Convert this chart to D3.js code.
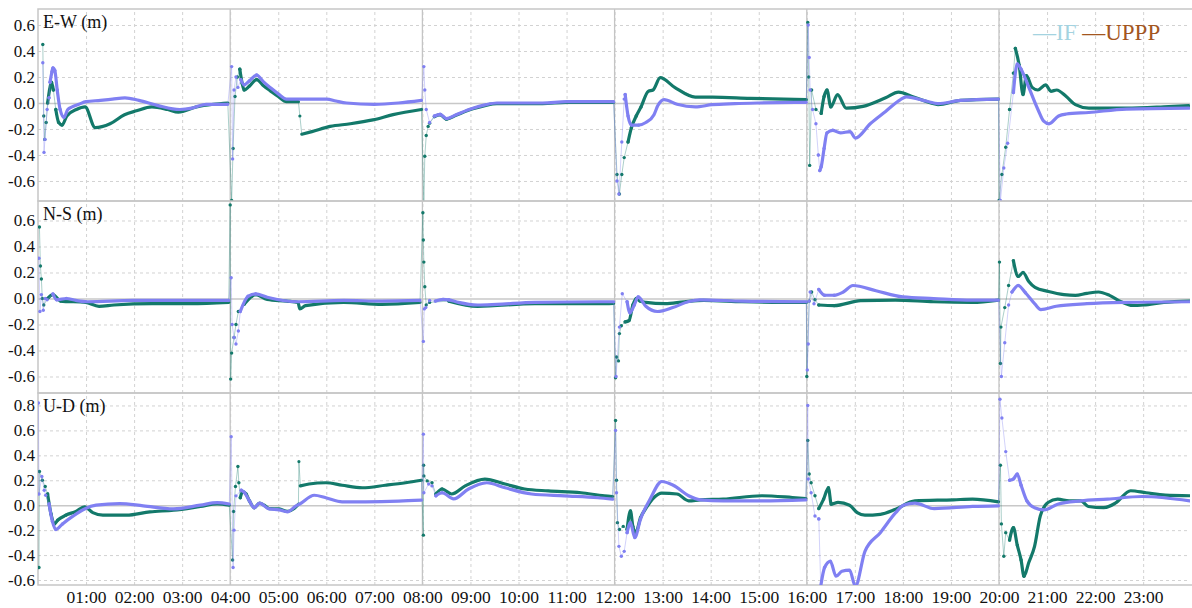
<!DOCTYPE html>
<html>
<head>
<meta charset="utf-8">
<script src="https://cdn.jsdelivr.net/npm/d3@7"></script>
<style>
  body { margin: 0; background: #fff; }
  svg text { font-family: "Liberation Serif", "Times New Roman", serif; }
</style>
</head>
<body>
<div id="chart"></div>
<script>
var w = 1192;
var h = 608;

// hours with tick labels, session restarts and y ticks
var hourTicks = d3.range(1, 24);
var sessionStarts = [4, 8, 12, 16, 20];
var yTicksNE = [-0.6, -0.4, -0.2, 0.0, 0.2, 0.4, 0.6];
var yTicksU = [-0.6, -0.4, -0.2, 0.0, 0.2, 0.4, 0.6, 0.8];
var panelTitles = ["E-W (m)", "N-S (m)", "U-D (m)"];
var legendNames = ["IF", "UPPP"];

// [hour, metres]
var ewIF = [[0.10,0.31],[0.125,-0.38],[0.146,-0.28],[0.19,-0.05],[0.23,0.04],[0.25,0.16],[0.29,0.24],[0.31,0.27],[0.35,0.25],[0.40,0.10],[0.46,-0.05],[0.54,-0.11],[0.62,-0.05],[0.71,-0.03],[0.85,-0.01],[1.0,0.01],[1.3,0.02],[1.55,0.03],[1.81,0.04],[2.1,0.02],[2.5,-0.02],[2.95,-0.05],[3.2,-0.04],[3.5,-0.01],[3.95,-0.01],
  [4.03,0.28],[4.05,-0.43],[4.08,0.1],[4.12,0.2],[4.16,0.12],[4.22,0.18],[4.29,0.14],[4.4,0.17],[4.55,0.215],[4.7,0.16],[4.83,0.12],[5.0,0.07],[5.17,0.03],[5.43,0.03],[5.7,0.03],[6.01,0.03],[6.2,0.015],[6.42,0.0],[7.0,-0.01],[7.5,0.0],[7.98,0.02],
  [8.03,0.28],[8.05,0.1],[8.08,-0.05],[8.15,-0.15],[8.25,-0.1],[8.37,-0.087],[8.5,-0.12],[8.7,-0.09],[9.05,-0.04],[9.3,-0.015],[9.55,0.0],[10.5,0.0],[11.0,0.01],[11.98,0.01],
  [12.05,-0.6],[12.09,-0.7],[12.15,-0.3],[12.2,0.03],[12.22,0.065],[12.28,-0.1],[12.35,-0.17],[12.5,-0.17],[12.65,-0.15],[12.82,-0.09],[12.9,-0.02],[13.03,0.026],[13.3,-0.01],[13.68,-0.03],[14.03,-0.013],[14.5,-0.005],[15.0,0.0],[15.99,0.005],
  [16.03,0.6],[16.05,0.35],[16.07,0.1],[16.12,-0.05],[16.19,-0.16],[16.24,-0.4],[16.27,-0.52],[16.3,-0.49],[16.36,-0.35],[16.42,-0.23],[16.54,-0.21],[16.7,-0.23],[16.9,-0.22],[17.01,-0.27],[17.32,-0.16],[17.64,-0.065],[17.95,0.026],[18.07,0.047],[18.5,0.013],[18.73,-0.005],[19.2,0.02],[19.99,0.03],
  [20.03,-0.75],[20.1,-0.5],[20.18,-0.31],[20.3,0.08],[20.38,0.3],[20.46,0.26],[20.61,0.13],[20.81,-0.05],[20.93,-0.14],[21.04,-0.16],[21.24,-0.10],[21.4,-0.085],[21.87,-0.073],[22.65,-0.047],[23.95,-0.04]];
var ewUPPP = [[0.10,0.45],[0.12,-0.1],[0.14,-0.28],[0.17,-0.15],[0.2,0.0],[0.24,0.1],[0.28,0.16],[0.32,0.1],[0.37,-0.05],[0.43,-0.15],[0.5,-0.17],[0.6,-0.1],[0.8,-0.05],[0.98,-0.03],[1.19,-0.19],[1.5,-0.16],[1.8,-0.09],[2.05,-0.06],[2.37,-0.03],[2.7,-0.05],[2.92,-0.07],[3.3,-0.03],[3.65,-0.01],[3.95,0.0],
  [4.03,-0.75],[4.06,-0.35],[4.1,0.05],[4.15,0.2],[4.2,0.26],[4.25,0.15],[4.29,0.10],[4.4,0.13],[4.55,0.18],[4.7,0.13],[4.83,0.095],[5.0,0.05],[5.17,0.01],[5.42,0.01],[5.45,-0.1],[5.49,-0.24],[5.7,-0.22],[6.08,-0.18],[6.5,-0.16],[6.97,-0.13],[7.39,-0.09],[7.98,-0.05],
  [8.03,-0.78],[8.05,-0.41],[8.08,-0.25],[8.12,-0.18],[8.15,-0.155],[8.25,-0.105],[8.37,-0.09],[8.5,-0.125],[8.7,-0.095],[9.05,-0.045],[9.3,-0.02],[9.55,-0.005],[10.5,-0.005],[11.0,0.005],[11.98,0.005],
  [12.05,-0.55],[12.1,-0.7],[12.15,-0.55],[12.2,-0.42],[12.28,-0.3],[12.35,-0.19],[12.45,-0.1],[12.55,-0.03],[12.7,0.09],[12.8,0.1],[12.95,0.195],[13.25,0.12],[13.68,0.045],[14.03,0.045],[14.82,0.036],[15.99,0.026],
  [16.02,0.62],[16.04,0.2],[16.06,-0.48],[16.1,0.1],[16.19,-0.05],[16.3,-0.08],[16.36,0.05],[16.42,0.1],[16.5,-0.03],[16.64,0.065],[16.82,-0.04],[17.17,-0.026],[17.64,0.04],[17.91,0.083],[18.19,0.05],[18.58,0.0],[18.73,-0.013],[19.2,0.02],[19.99,0.03],
  [20.0,-0.75],[20.06,-0.55],[20.14,-0.34],[20.22,-0.05],[20.3,0.23],[20.34,0.42],[20.42,0.29],[20.5,0.065],[20.57,0.21],[20.69,0.12],[20.81,0.10],[20.97,0.14],[21.08,0.09],[21.2,0.10],[21.4,0.05],[21.59,-0.013],[21.87,-0.04],[22.65,-0.04],[23.43,-0.03],[23.95,-0.02]];

var nsIF = [[0.02,0.31],[0.04,-0.1],[0.07,0.03],[0.11,-0.09],[0.15,0.0],[0.19,-0.01],[0.31,0.035],[0.39,-0.01],[0.59,0.0],[0.79,-0.015],[1.03,-0.025],[1.98,-0.015],[3.0,-0.015],[3.97,-0.015],
  [4.02,0.16],[4.04,-0.2],[4.08,-0.3],[4.12,-0.35],[4.17,-0.25],[4.21,-0.1],[4.37,0.017],[4.53,0.035],[4.77,0.01],[5.41,-0.025],[6.36,-0.015],[7.16,-0.02],[7.95,-0.015],
  [8.02,-0.33],[8.04,-0.08],[8.07,-0.07],[8.15,-0.015],[8.27,-0.02],[8.43,-0.007],[8.55,-0.01],[8.75,-0.03],[9.15,-0.05],[9.55,-0.045],[10.34,-0.03],[11.68,-0.025],[11.98,-0.025],
  [12.03,-0.6],[12.1,-0.22],[12.16,0.037],[12.26,-0.025],[12.32,-0.11],[12.41,-0.05],[12.49,0.012],[12.65,-0.06],[12.89,-0.1],[13.21,-0.07],[13.53,-0.025],[13.77,-0.01],[14.65,-0.02],[15.99,-0.025],
  [16.01,-0.55],[16.03,-0.35],[16.05,-0.02],[16.07,0.05],[16.15,-0.04],[16.25,0.07],[16.37,0.025],[16.57,0.025],[16.76,0.05],[16.96,0.1],[17.44,0.06],[18.0,0.012],[18.64,0.0],[19.44,-0.012],[19.99,-0.012],
  [20.05,-0.6],[20.12,-0.34],[20.2,-0.05],[20.27,0.05],[20.4,0.1],[20.55,0.044],[20.75,-0.044],[20.87,-0.085],[21.19,-0.06],[21.83,-0.04],[22.63,-0.03],[23.97,-0.025]];
var nsUPPP = [[0.03,0.55],[0.05,0.25],[0.07,0.15],[0.09,0.0],[0.12,-0.05],[0.2,0.0],[0.31,0.03],[0.47,-0.02],[0.99,-0.03],[1.27,-0.06],[1.58,-0.05],[2.38,-0.04],[3.18,-0.04],[3.97,-0.03],
  [4.0,0.72],[4.01,-0.62],[4.03,-0.42],[4.08,-0.3],[4.12,-0.2],[4.17,-0.1],[4.29,-0.045],[4.45,0.017],[4.53,0.03],[4.77,-0.007],[5.17,-0.02],[5.41,-0.03],[5.45,-0.08],[5.57,-0.055],[6.36,-0.03],[7.16,-0.045],[7.95,-0.03],
  [8.01,0.66],[8.02,0.45],[8.03,0.28],[8.05,0.09],[8.08,-0.05],[8.15,-0.03],[8.55,-0.02],[9.15,-0.06],[10.34,-0.04],[11.68,-0.04],[11.98,-0.037],
  [12.02,-0.61],[12.04,-0.45],[12.08,-0.48],[12.1,-0.27],[12.14,-0.21],[12.22,-0.18],[12.3,-0.17],[12.38,-0.05],[12.45,0.0],[12.53,-0.02],[12.65,-0.03],[13.05,-0.04],[13.45,-0.025],[13.85,-0.015],[14.65,-0.025],[15.45,-0.03],[15.99,-0.03],
  [16.0,-0.6],[16.05,-0.02],[16.1,0.05],[16.17,-0.01],[16.25,-0.05],[16.57,-0.055],[17.12,-0.017],[17.84,-0.012],[18.64,-0.025],[19.44,-0.03],[19.99,-0.012],
  [20.01,0.28],[20.03,-0.5],[20.04,-0.22],[20.12,-0.07],[20.2,0.1],[20.3,0.29],[20.4,0.17],[20.5,0.2],[20.62,0.13],[20.75,0.085],[21.03,0.054],[21.35,0.03],[21.59,0.024],[21.83,0.04],[22.07,0.05],[22.3,0.024],[22.54,-0.025],[22.78,-0.054],[23.01,-0.05],[23.43,-0.03],[23.97,-0.02]];

var udIF = [[0.01,0.82],[0.02,0.09],[0.08,0.23],[0.13,0.12],[0.16,0.08],[0.23,0.01],[0.3,-0.13],[0.37,-0.195],[0.51,-0.15],[0.72,-0.09],[0.97,-0.03],[1.21,0.0],[1.7,0.013],[2.19,-0.005],[2.82,-0.03],[3.38,0.0],[3.73,0.02],[3.98,0.01],
  [4.02,0.55],[4.06,-0.5],[4.08,-0.2],[4.12,0.075],[4.23,0.12],[4.3,0.1],[4.4,0.035],[4.5,-0.02],[4.61,0.016],[4.81,-0.03],[5.02,-0.037],[5.19,-0.053],[5.37,-0.005],[5.44,0.008],[5.75,0.08],[5.99,0.06],[6.33,0.027],[6.82,0.027],[7.51,0.032],[7.98,0.04],
  [8.02,0.57],[8.03,0.1],[8.13,0.17],[8.2,0.155],[8.28,0.075],[8.41,0.1],[8.65,0.05],[8.96,0.13],[9.34,0.18],[9.72,0.14],[10.27,0.09],[10.96,0.075],[11.65,0.06],[11.96,0.048],
  [12.02,0.6],[12.04,0.1],[12.09,-0.33],[12.14,-0.41],[12.2,-0.37],[12.26,-0.22],[12.33,-0.14],[12.42,-0.26],[12.54,-0.11],[12.74,0.049],[12.98,0.19],[13.22,0.16],[13.54,0.076],[13.78,0.043],[14.26,0.035],[15.06,0.035],[15.98,0.043],
  [16.02,0.8],[16.03,0.21],[16.09,0.1],[16.17,-0.086],[16.25,-0.11],[16.29,-0.65],[16.37,-0.5],[16.49,-0.45],[16.61,-0.57],[16.73,-0.53],[16.89,-0.52],[17.01,-0.65],[17.21,-0.37],[17.53,-0.22],[17.85,-0.06],[18.01,0.0],[18.25,0.016],[18.65,-0.027],[19.45,-0.01],[19.99,-0.005],
  [20.02,0.85],[20.06,0.7],[20.14,0.43],[20.22,0.2],[20.3,0.21],[20.38,0.25],[20.46,0.16],[20.58,0.035],[20.74,-0.02],[20.94,-0.038],[21.22,0.008],[21.7,0.035],[22.26,0.049],[22.98,0.07],[23.97,0.035]];
var udUPPP = [[0.02,-0.5],[0.03,0.27],[0.09,0.2],[0.15,0.15],[0.2,0.09],[0.27,-0.07],[0.34,-0.15],[0.41,-0.12],[0.58,-0.08],[0.79,-0.05],[0.97,-0.013],[1.14,-0.06],[1.35,-0.08],[1.84,-0.08],[2.33,-0.053],[2.82,-0.04],[3.38,-0.01],[3.73,0.01],[3.98,0.0],
  [4.05,-0.44],[4.07,-0.05],[4.11,0.15],[4.16,0.31],[4.18,0.18],[4.21,0.06],[4.26,0.11],[4.33,0.09],[4.4,0.035],[4.5,-0.02],[4.61,0.016],[4.71,0.0],[4.81,-0.027],[5.02,-0.03],[5.19,-0.05],[5.33,-0.027],[5.42,0.008],[5.43,0.35],[5.46,0.155],[5.64,0.17],[5.99,0.18],[6.33,0.16],[6.75,0.14],[7.23,0.16],[7.65,0.18],[7.98,0.2],
  [8.02,-0.24],[8.025,0.32],[8.03,0.235],[8.1,0.195],[8.2,0.18],[8.28,0.09],[8.41,0.13],[8.61,0.09],[8.89,0.155],[9.3,0.21],[9.72,0.17],[10.13,0.13],[10.62,0.115],[11.3,0.1],[11.79,0.075],[11.96,0.07],
  [12.02,0.68],[12.04,0.2],[12.06,-0.14],[12.1,-0.195],[12.18,-0.17],[12.26,-0.195],[12.33,-0.046],[12.38,-0.17],[12.44,-0.22],[12.54,-0.1],[12.66,-0.02],[12.82,0.062],[12.98,0.097],[13.3,0.09],[13.54,0.035],[13.78,0.043],[14.26,0.049],[15.06,0.076],[15.7,0.062],[15.98,0.054],
  [16.02,0.52],[16.05,0.25],[16.09,0.18],[16.17,0.076],[16.25,-0.027],[16.35,0.049],[16.45,0.14],[16.51,0.008],[16.65,0.022],[16.89,0.0],[17.05,-0.06],[17.21,-0.08],[17.53,-0.073],[17.85,-0.032],[18.25,0.035],[19.05,0.043],[19.45,0.049],[19.99,0.027],
  [20.03,0.32],[20.05,-0.15],[20.1,-0.41],[20.14,-0.22],[20.22,-0.28],[20.3,-0.18],[20.38,-0.32],[20.46,-0.44],[20.52,-0.57],[20.62,-0.46],[20.74,-0.33],[20.86,-0.086],[21.02,0.022],[21.22,0.049],[21.46,0.035],[21.7,0.035],[21.86,-0.01],[22.18,-0.02],[22.42,0.016],[22.74,0.116],[23.06,0.1],[23.46,0.081],[23.97,0.076]];

var colorIF = "#8080f2";
var colorUPPP = "#13796a";

var panels = [
  { title: panelTitles[0], top: 9,   bottom: 201, domain: [-0.754, 0.723], ticks: yTicksNE, series: [ewUPPP, ewIF] },
  { title: panelTitles[1], top: 201, bottom: 393, domain: [-0.727, 0.75],  ticks: yTicksNE, series: [nsUPPP, nsIF] },
  { title: panelTitles[2], top: 393, bottom: 585, domain: [-0.64, 0.90],   ticks: yTicksU,  series: [udUPPP, udIF] }
];
var seriesColors = [colorUPPP, colorIF];

var left = 38, right = 1190;

var svg = d3.select("#chart")
            .append("svg")
            .attr("width", w)
            .attr("height", h);

var xScale = d3.scaleLinear().domain([0, 24]).range([left, 1191.2]);

// time since the last session restart
function phase(t) { return t - Math.floor(t / 4) * 4; }

// break the solid trace where the solution jumps
function withBreaks(data) {
    var out = [];
    data.forEach(function(d, j) {
        if (j > 0) {
            var p = data[j - 1];
            if (Math.abs(d[1] - p[1]) / (d[0] - p[0]) > 3) out.push(null);
        }
        out.push(d);
    });
    return out;
}

panels.forEach(function(p, i) {
    var yScale = d3.scaleLinear().domain(p.domain).range([p.bottom, p.top]);
    var g = svg.append("g");

    g.append("clipPath").attr("id", "clip" + i)
        .append("rect")
        .attr("x", left).attr("y", p.top)
        .attr("width", right - left).attr("height", p.bottom - p.top);

    // grid: hours
    g.append("g")
        .attr("transform", "translate(0," + p.bottom + ")")
        .call(d3.axisBottom(xScale).tickValues(hourTicks).tickSize(-(p.bottom - p.top)).tickFormat(""))
        .call(function(a) {
            a.select(".domain").remove();
            a.selectAll("line").attr("stroke", "#d2d2d2").attr("stroke-dasharray", "3,3");
        });
    // grid: values
    g.append("g")
        .attr("transform", "translate(" + left + ",0)")
        .call(d3.axisLeft(yScale).tickValues(p.ticks).tickSize(-(right - left)).tickPadding(3)
            .tickFormat(function(d) { return d.toFixed(1); }))
        .call(function(a) {
            a.select(".domain").remove();
            a.selectAll("line")
                .attr("stroke", function(d) { return d === 0 ? "#c8c8c8" : "#d2d2d2"; })
                .attr("stroke-width", function(d) { return d === 0 ? 1.6 : 1; })
                .attr("stroke-dasharray", function(d) { return d === 0 ? null : "3,3"; });
            a.selectAll("text")
                .attr("fill", "#111")
                .style("font-size", "17px");
        });

    // session restart lines
    g.selectAll(".restart")
        .data(sessionStarts)
        .enter()
        .append("line")
        .attr("x1", function(d) { return xScale(d); })
        .attr("x2", function(d) { return xScale(d); })
        .attr("y1", p.top)
        .attr("y2", p.bottom)
        .attr("stroke", "#c4c4c4")
        .attr("stroke-width", 1.3);

    // panel frame
    g.append("rect")
        .attr("x", left).attr("y", p.top)
        .attr("width", right - left + 4).attr("height", p.bottom - p.top)
        .attr("fill", "none")
        .attr("stroke", "#c6c6c6")
        .attr("stroke-width", 1.5);

    var plot = g.append("g").attr("clip-path", "url(#clip" + i + ")");

    p.series.forEach(function(data, k) {
        var col = seriesColors[k];
        var thin = d3.line()
            .x(function(d) { return xScale(d[0]); })
            .y(function(d) { return yScale(d[1]); });
        var thick = d3.line()
            .defined(function(d) { return d !== null && phase(d[0]) >= 0.2; })
            .curve(d3.curveMonotoneX)
            .x(function(d) { return xScale(d[0]); })
            .y(function(d) { return yScale(d[1]); });

        plot.append("path")
            .datum(data)
            .attr("d", thin)
            .attr("fill", "none")
            .attr("stroke", col)
            .attr("stroke-opacity", 0.45)
            .attr("stroke-width", 0.8);

        plot.append("path")
            .datum(withBreaks(data))
            .attr("d", thick)
            .attr("fill", "none")
            .attr("stroke", col)
            .attr("stroke-width", 3.2)
            .attr("stroke-linejoin", "round")
            .attr("stroke-linecap", "round");

        plot.selectAll(".dot" + k)
            .data(data.filter(function(d) { return phase(d[0]) < 0.6; }))
            .enter()
            .append("circle")
            .attr("cx", function(d) { return xScale(d[0]); })
            .attr("cy", function(d) { return yScale(d[1]); })
            .attr("r", 1.7)
            .attr("fill", col);
    });

    g.append("text")
        .attr("x", 43)
        .attr("y", p.top + 19)
        .style("font-size", "18px")
        .attr("fill", "#111")
        .text(p.title);
});

// time axis
svg.append("g")
    .attr("transform", "translate(0,585)")
    .call(d3.axisBottom(xScale).tickValues(hourTicks).tickSize(0).tickPadding(6)
        .tickFormat(function(d) { return (d < 10 ? "0" : "") + d + ":00"; }))
    .call(function(a) {
        a.select(".domain").remove();
        a.selectAll("text").attr("fill", "#111").style("font-size", "17.5px");
    });

// legend
var legend = svg.append("text")
    .attr("x", 1033)
    .attr("y", 40)
    .style("font-size", "23px");
legend.append("tspan").attr("fill", "#a4d3e0").text("\u2014" + legendNames[0] + " ");
legend.append("tspan").attr("fill", "#a3561f").text("\u2014" + legendNames[1]);
</script>
</body>
</html>
